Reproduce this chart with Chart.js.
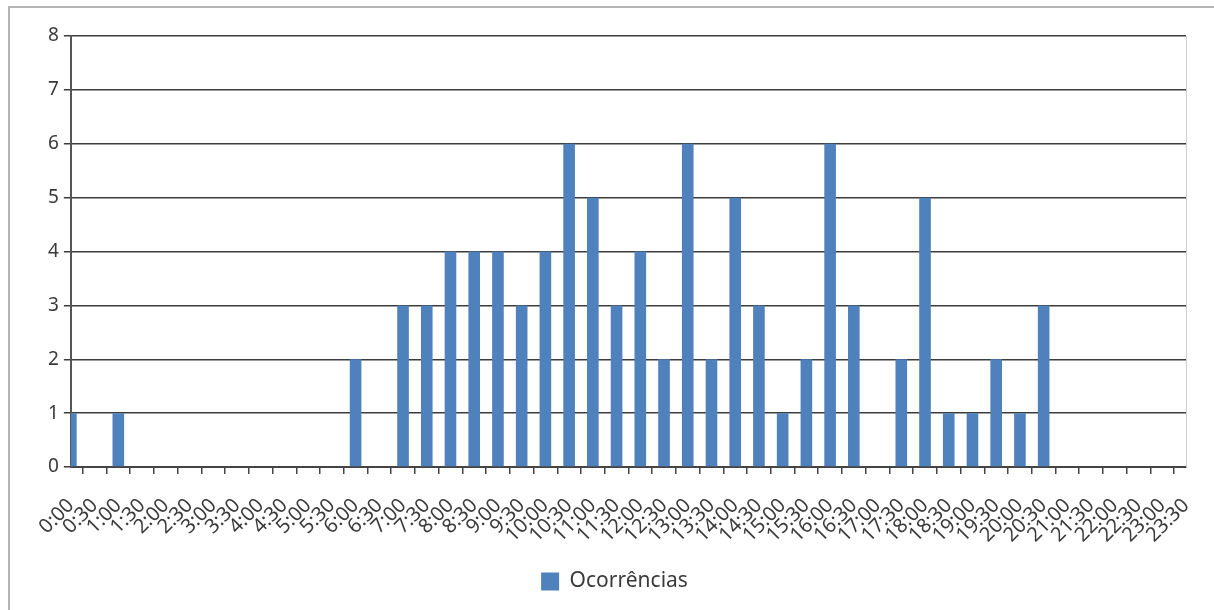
<!DOCTYPE html>
<html>
<head>
<meta charset="utf-8">
<title>Ocorrências por horário</title>
<script src="https://cdn.jsdelivr.net/npm/chart.js@4.4.1/dist/chart.umd.min.js"></script>
<style>
  html, body { margin: 0; padding: 0; background: #fff; overflow: hidden; }
  #wrap { position: relative; width: 1214px; height: 610px; }
  #frame { position: absolute; left: 8px; top: 6px; right: -10px; bottom: -10px;
           border: 2px solid #b4b4b4; pointer-events: none; }
  canvas { position: absolute; left: 0; top: 0; }
</style>
</head>
<body>
<div id="wrap">
  <canvas id="chart" width="1214" height="610"></canvas>
  <div id="frame"></div>
</div>
<script>
// Half-hour time slots (category axis)
const timeLabels = [
  '0:00','0:30','1:00','1:30','2:00','2:30','3:00','3:30',
  '4:00','4:30','5:00','5:30','6:00','6:30','7:00','7:30',
  '8:00','8:30','9:00','9:30','10:00','10:30','11:00','11:30',
  '12:00','12:30','13:00','13:30','14:00','14:30','15:00','15:30',
  '16:00','16:30','17:00','17:30','18:00','18:30','19:00','19:30',
  '20:00','20:30','21:00','21:30','22:00','22:30','23:00','23:30'
];

// Number of occurrences per slot
const occurrences = [
  1, 0, 1, 0, 0, 0, 0, 0,
  0, 0, 0, 0, 2, 0, 3, 3,
  4, 4, 4, 3, 4, 6, 5, 3,
  4, 2, 6, 2, 5, 3, 1, 2,
  6, 3, 0, 2, 5, 1, 1, 2,
  1, 3, 0, 0, 0, 0, 0, 0
];

const seriesName = 'Ocorrências';

// Value axis range
const yMin = 0;
const yMax = 8;
const yStep = 1;

const FONT = "'Noto Sans', 'Open Sans', 'DejaVu Sans', sans-serif";
const TEXT = '#3a3a3a';
const BAR = '#4f81bd';

// Thin light border on the right side of the plot area
const plotEdge = {
  id: 'plotEdge',
  beforeDatasetsDraw(chart) {
    const { ctx, chartArea: a } = chart;
    ctx.save();
    ctx.strokeStyle = '#cfcfcf';
    ctx.lineWidth = 1;
    ctx.beginPath();
    ctx.moveTo(Math.round(a.right) + 0.5, a.top);
    ctx.lineTo(Math.round(a.right) + 0.5, a.bottom);
    ctx.stroke();
    ctx.restore();
  }
};

new Chart(document.getElementById('chart'), {
  type: 'bar',
  data: {
    labels: timeLabels,
    datasets: [{
      label: seriesName,
      data: occurrences,
      backgroundColor: BAR,
      borderWidth: 0,
      categoryPercentage: 1,
      barPercentage: 0.49
    }]
  },
  options: {
    responsive: false,
    animation: false,
    devicePixelRatio: 1,
    layout: { padding: { left: 43, right: 28, top: 36, bottom: 8 } },
    plugins: {
      tooltip: { enabled: false },
      legend: {
        position: 'bottom',
        labels: {
          font: { family: FONT, size: 21 },
          color: TEXT,
          boxWidth: 18,
          boxHeight: 18,
          padding: 12
        }
      }
    },
    scales: {
      x: {
        offset: false,
        afterFit(scale) {
          scale.height = 92;
          scale.paddingLeft = 0;
          scale.paddingRight = 0;
        },
        grid: {
          display: true,
          drawOnChartArea: false,
          drawTicks: true,
          tickLength: 7,
          color: '#444',
          lineWidth: 1.5
        },
        border: { display: true, color: '#444', width: 2 },
        ticks: {
          autoSkip: false,
          minRotation: 45,
          maxRotation: 45,
          padding: 20,
          font: { family: FONT, size: 20 },
          color: TEXT
        }
      },
      y: {
        min: yMin,
        max: yMax,
        ticks: {
          stepSize: yStep,
          padding: 5,
          font: { family: FONT, size: 19 },
          color: TEXT
        },
        grid: {
          color: '#3c3c3c',
          lineWidth: 1.5,
          tickLength: 7
        },
        border: { display: true, color: '#555', width: 2 }
      }
    }
  },
  plugins: [plotEdge]
});
</script>
</body>
</html>
